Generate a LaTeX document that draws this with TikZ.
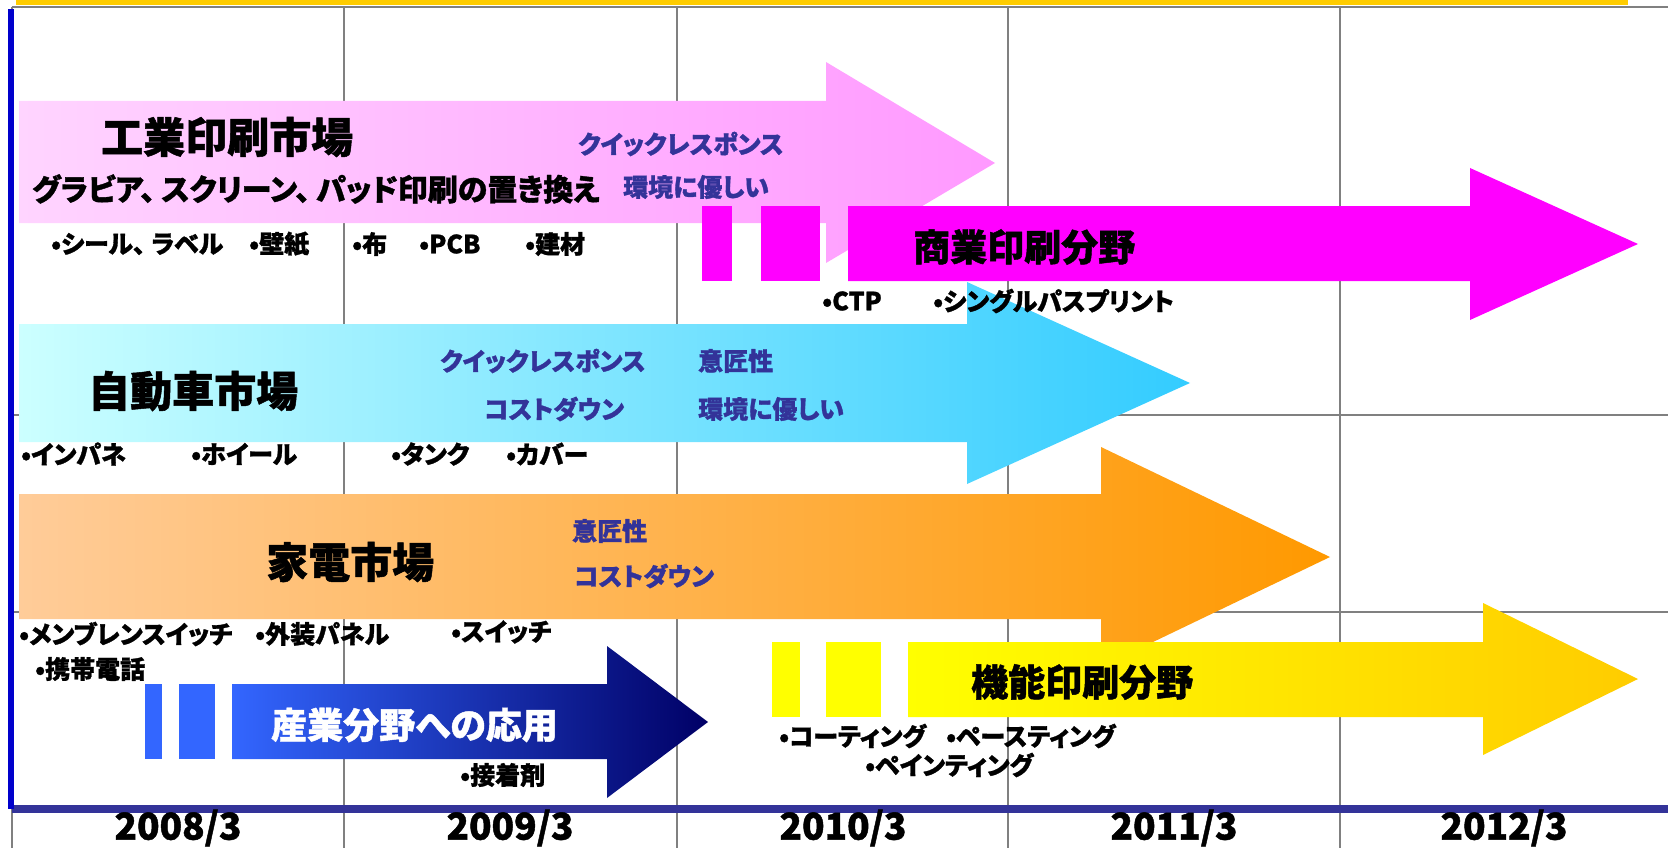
\documentclass[tikz,border=0pt]{standalone}
\usepackage{fontspec}
\newfontfamily\jp{Noto Sans CJK JP}[RawFeature=+palt, BoldFeatures={FakeBold=1.2}]
\definecolor{navytxt}{RGB}{51,51,153}
\definecolor{axisblue}{RGB}{51,51,153}
\definecolor{leftblue}{RGB}{0,0,204}
\definecolor{topyellow}{RGB}{255,204,0}
\definecolor{gridgray}{RGB}{128,128,128}
\definecolor{pinkL}{RGB}{255,212,255}
\definecolor{pinkR}{RGB}{255,153,255}
\definecolor{magenta1}{RGB}{255,0,255}
\definecolor{cyanL}{RGB}{204,255,255}
\definecolor{cyanR}{RGB}{51,204,255}
\definecolor{orangeL}{RGB}{255,204,153}
\definecolor{orangeR}{RGB}{255,153,0}
\definecolor{yellowL}{RGB}{255,255,0}
\definecolor{yellowR}{RGB}{255,204,0}
\definecolor{royal}{RGB}{51,102,255}
\definecolor{navyR}{RGB}{0,0,102}
\newcommand{\tten}{、\hspace{6pt}}
\tikzset{
  fs/.style={font=\jp\bfseries\fontsize{#1}{#1}\selectfont},
  big/.style={fs=42, inner sep=0pt, anchor=west},
  fld/.style={fs=37, inner sep=0pt, anchor=west},
  sub/.style={fs=30, inner sep=0pt, anchor=west},
  blu/.style={fs=25, inner sep=0pt, anchor=west, text=navytxt},
  lab/.style={fs=25, inner sep=0pt, anchor=west},
  yr/.style={fs=37, inner sep=0pt, anchor=center},
  grid/.style={draw=gridgray, line width=1.6pt},
}
\begin{document}
\begin{tikzpicture}[x=1pt,y=-1pt]
\useasboundingbox (0,0) rectangle (1668,848);
% grid
\draw[grid] (12,7) -- (1668,7);
\foreach \gx in {12,344,677,1008,1340} \draw[grid] (\gx,7) -- (\gx,848);
\draw[grid, line width=2.2pt] (12,415) -- (1668,415);
\draw[grid, line width=2.2pt] (12,612) -- (1668,612);
\fill[topyellow] (16,0) rectangle (1628,5);
% pink arrow
\shade[left color=pinkL, right color=pinkR] (19,101) -- (826,101) -- (826,62) -- (995,163) -- (826,263) -- (826,223) -- (19,223) -- cycle;
% magenta arrow
\fill[magenta1] (702,206) rectangle (732,281);
\fill[magenta1] (761,206) rectangle (820,281);
\fill[magenta1] (848,206) -- (1470,206) -- (1470,168) -- (1638,244) -- (1470,320) -- (1470,281) -- (848,281) -- cycle;
% cyan arrow
\shade[left color=cyanL, right color=cyanR] (19,324) -- (967,324) -- (967,282) -- (1190,383) -- (967,484) -- (967,442) -- (19,442) -- cycle;
% orange arrow
\shade[left color=orangeL, right color=orangeR] (19,494) -- (1101,494) -- (1101,447) -- (1330,557) -- (1101,667) -- (1101,619) -- (19,619) -- cycle;
% yellow arrow
\fill[yellowL] (772,642) rectangle (800,717);
\fill[yellowL] (826,642) rectangle (881,717);
\shade[left color=yellowL, right color=yellowR] (908,642) -- (1483,642) -- (1483,603) -- (1638,679) -- (1483,755) -- (1483,717) -- (908,717) -- cycle;
% navy arrow
\fill[royal] (145,684) rectangle (162,759);
\fill[royal] (179,684) rectangle (215,759);
\shade[left color=royal, right color=navyR] (232,684) -- (607,684) -- (607,646) -- (708,722) -- (607,798) -- (607,759) -- (232,759) -- cycle;
% axis and left line
\fill[axisblue] (12,805) rectangle (1668,813);
\fill[leftblue] (8,9) rectangle (14,809);
% texts: industrial printing
\node[big] (t1) at (101,137) {工業印刷市場};
\node[sub] (t2) at (32,189) {グラビア\tten スクリーン\tten パッド印刷の置き換え};
\node[blu] (t3) at (578,144) {クイックレスポンス};
\node[blu] (t4) at (623,187) {環境に優しい};
\node[lab] (l1) at (51,244) {•シール\tten ラベル};
\node[lab] (l2) at (249,244) {•壁紙};
\node[lab] (l3) at (352,244) {•布};
\node[lab] (l4) at (419,244) {•PCB};
\node[lab] (l5) at (525,244) {•建材};
% commercial
\node[fld] (c1) at (913,247) {商業印刷分野};
\node[lab] (c2) at (822,301) {•CTP};
\node[lab] (c3) at (933,301) {•シングルパスプリント};
% automotive
\node[big] (a1) at (88,391) {自動車市場};
\node[blu] (a2) at (440,361) {クイックレスポンス};
\node[blu] (a3) at (484,409) {コストダウン};
\node[blu] (a4) at (698,361) {意匠性};
\node[blu] (a5) at (698,409) {環境に優しい};
\node[lab] (a6) at (21,454) {•インパネ};
\node[lab] (a7) at (191,454) {•ホイール};
\node[lab] (a8) at (391,454) {•タンク};
\node[lab] (a9) at (506,454) {•カバー};
% appliances
\node[big] (h1) at (266,562) {家電市場};
\node[blu] (h2) at (572,531) {意匠性};
\node[blu] (h3) at (574,576) {コストダウン};
\node[lab] (h4) at (19,634) {•メンブレンスイッチ};
\node[lab] (h5) at (255,634) {•外装パネル};
\node[lab] (h6) at (451,632) {•スイッチ};
\node[lab] (h7) at (35,669) {•携帯電話};
% industrial applications
\node[fld, fs=36, text=white] (n1) at (271,725) {産業分野への応用};
\node[lab] (n2) at (460,775) {•接着剤};
% functional printing
\node[fld] (f1) at (971,682) {機能印刷分野};
\node[lab] (f2) at (779,736) {•コーティング};
\node[lab] (f3) at (946,736) {•ペースティング};
\node[lab] (f4) at (865,765) {•ペインティング};
% years
\node[yr] (y1) at (178,828) {2008/3};
\node[yr] (y2) at (510,828) {2009/3};
\node[yr] (y3) at (843,828) {2010/3};
\node[yr] (y4) at (1174,828) {2011/3};
\node[yr] (y5) at (1504,828) {2012/3};
\end{tikzpicture}
\end{document}
